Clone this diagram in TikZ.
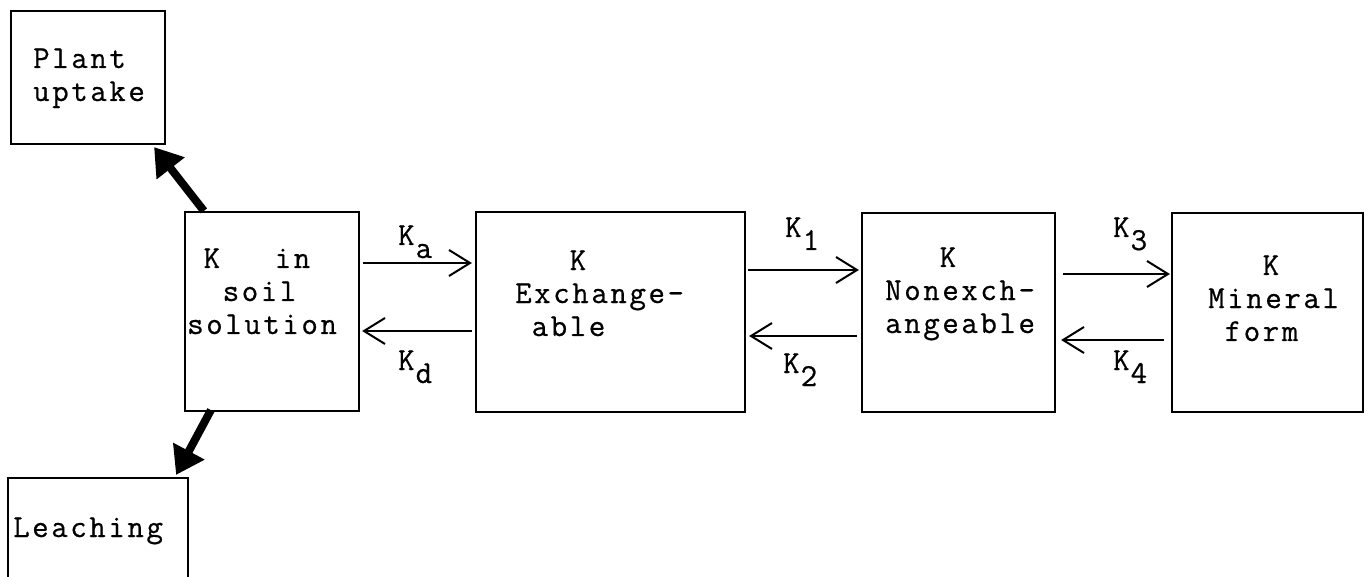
\documentclass[tikz,border=0pt]{standalone}
\usepackage{fontspec}
\newfontfamily\typewriter{Latin Modern Mono}[LetterSpace=8,FakeBold=0.6]
\usetikzlibrary{arrows.meta,calc}
% multi-line label whose baseline is that of its first line
\newcommand\boxlines[1]{\begin{tabular}[t]{@{}l@{}}#1\end{tabular}}
% rate constant with a typewriter-style lowered index
\newcommand\ratek[1]{K\kern1pt\raisebox{-13pt}{#1}}
\newcommand\gap[1]{\hphantom{#1}}

\begin{document}
\begin{tikzpicture}[x=1pt,y=-1pt,
  pool/.style={draw, line width=2.2pt, inner sep=0pt},
  caption/.style={inner sep=0pt, anchor=base west,
    font=\typewriter\fontsize{32}{33}\selectfont},
  flow/.style={line width=2pt, -{Straight Barb[length=21pt,width=26pt]}},
  loss/.style={line width=8pt, -{Triangle[length=27pt,width=34pt]}}]
\path[use as bounding box, clip] (0,0) rectangle (1370,577);
\fill[white] (0,0) rectangle (1370,577);

% pools
\node[pool, minimum width=154pt, minimum height=133pt] (plant) at (88,77.5) {};
\node[pool, minimum width=174pt, minimum height=199pt] (sol)   at (272,311.5) {};
\node[pool, minimum width=269pt, minimum height=200pt] (exch)  at (610.5,312) {};
\node[pool, minimum width=193pt, minimum height=199pt] (nonex) at (958.5,312.5) {};
\node[pool, minimum width=191pt, minimum height=199pt] (miner) at (1267.5,312.5) {};
\node[pool, minimum width=180pt, minimum height=150pt] (leach) at (98,553) {};

% pool captions
\node[caption] (plantT) at (33,68)   {\boxlines{Plant\\uptake}};
\node[caption] (solT)   at (187,268) {\boxlines{\gap{x}K\gap{xxx}in\\\gap{xx}soil\\solution}};
\node[caption] (exchT)  at (515,270) {\boxlines{\gap{xxx}K\\Exchange-\\\gap{x}able}};
\node[caption] (nonexT) at (885,267) {\boxlines{\gap{xxx}K\\Nonexch-\\angeable}};
\node[caption] (minerT) at (1208,275){\boxlines{\gap{xxx}K\\Mineral\\\gap{x}form}};
\node[caption] (leachT) at (13,537)  {Leaching};

% exchange between pools
\draw[flow] ($(sol.east)+(3,-48.5)$)  -- ($(exch.west)+(-3,-49)$);
\draw[flow] ($(exch.west)+(-3,19)$)   -- ($(sol.east)+(2,19.5)$);
\draw[flow] ($(exch.east)+(2,-42)$)   -- ($(nonex.west)+(-2,-42.5)$);
\draw[flow] ($(nonex.west)+(-4,23.5)$) -- ($(exch.east)+(3,24)$);
\draw[flow] ($(nonex.east)+(7,-38.5)$) -- ($(miner.west)+(-1,-38.5)$);
\draw[flow] ($(miner.west)+(-7,27.5)$) -- ($(nonex.east)+(5,27.5)$);

% rate constants
\node[caption] (ka) at (398,245)  {\ratek{a}};
\node[caption] (kd) at (398,370)  {\ratek{d}};
\node[caption] (k1) at (785,237)  {\ratek{1}};
\node[caption] (k2) at (783,373)  {\ratek{2}};
\node[caption] (k3) at (1113,237) {\ratek{3}};
\node[caption] (k4) at (1113,370) {\ratek{4}};

% losses from the soil solution
\draw[loss] ($(sol.north west)+(20,0)$) -- ($(plant.south east)+(-12,2)$);
\draw[loss] ($(sol.south west)+(27,-2)$) -- ($(leach.north east)+(-13,-2)$);
\end{tikzpicture}
\end{document}
